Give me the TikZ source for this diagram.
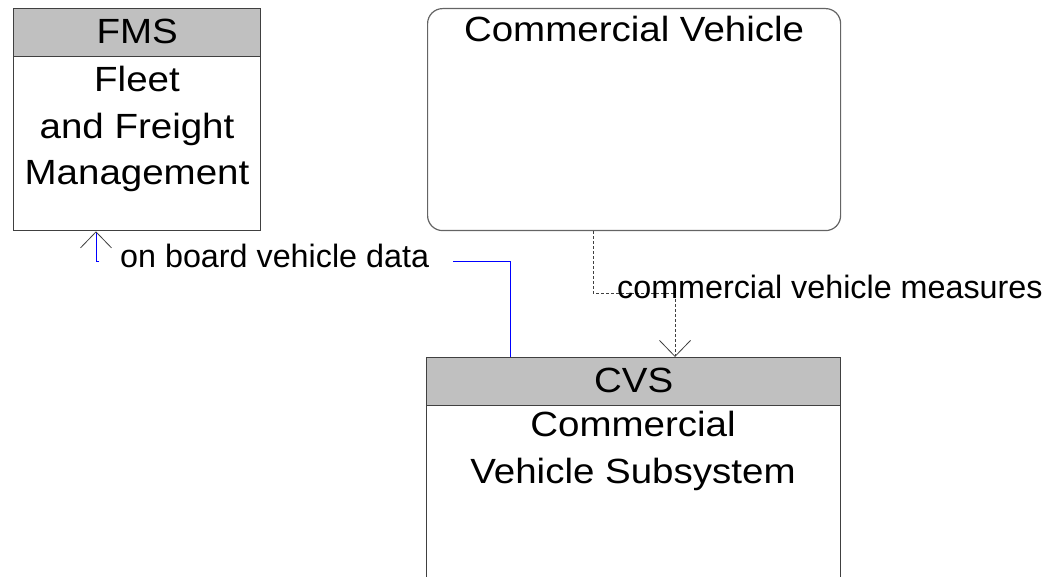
\documentclass[tikz,border=0pt]{standalone}
\usepackage{fontspec}
\setmainfont{Liberation Sans}
\newfontfamily\boxfont[FakeStretch=1.1]{Liberation Sans}
\usetikzlibrary{arrows.meta}
\definecolor{hdrgray}{RGB}{192,192,192}
\definecolor{edgegray}{RGB}{64,64,64}
\definecolor{cvgray}{RGB}{100,100,100}
\definecolor{flowblue}{RGB}{0,0,255}
\tikzset{
  boxframe/.style={draw=edgegray, line width=1.3pt, fill=white, inner sep=0pt, anchor=north west},
  hdrbox/.style={draw=edgegray, line width=1.3pt, fill=hdrgray, inner sep=0pt, anchor=north west,
     font=\boxfont\fontsize{35}{42}\selectfont, text height=25pt, text depth=4pt},
  bodytext/.style={inner sep=0pt, anchor=north, align=center, font=\boxfont\fontsize{35}{46.5}\selectfont},
  cvbox/.style={draw=cvgray, line width=1.2pt, rounded corners=15pt, inner sep=0pt, anchor=north west},
  flowlabel/.style={inner sep=0pt, anchor=base west, font=\fontsize{32.3}{38}\selectfont},
  openhead/.style={-{Straight Barb[length=16pt,width=31pt,color=edgegray,line width=0.8pt]}},
}
\begin{document}
\begin{tikzpicture}[x=1pt,y=-1pt]
\useasboundingbox (0,0) rectangle (1052,577);
\clip (0,0) rectangle (1052,577);
% FMS
\node[boxframe, minimum width=247pt, minimum height=222pt] (fms) at (13,8) {};
\node[hdrbox, minimum width=247pt, minimum height=48pt] (fmsh) at (13,8) {FMS};
\node[bodytext] (fmsb) at (137,66) {Fleet\\and Freight\\Management};
% Commercial Vehicle
\node[cvbox, minimum width=413pt, minimum height=222pt] (cv) at (427,8) {};
\node[bodytext] (cvt) at (cv.north |- 0,16) {Commercial Vehicle};
% CVS
\node[boxframe, minimum width=414pt, minimum height=260pt] (cvs) at (426,357) {};
\node[hdrbox, minimum width=414pt, minimum height=48pt] (cvsh) at (426,357) {CVS};
\node[bodytext] (cvsb) at (633,411) {Commercial\\Vehicle Subsystem};
% connector: on board vehicle data
\coordinate (b1) at (510,357);
\coordinate (b2) at (510,262);
\coordinate (b3) at (453,262);
\coordinate (b4) at (99,262);
\coordinate (b5) at (96,262);
\coordinate (b6) at (96,230);
\draw[flowblue, line width=1pt] (cvsh.north -| b1) -- (b2) -- (b3);
\draw[flowblue, line width=1pt, openhead] (b4) -- (b5) -- (fms.south -| b6);
\node[flowlabel] (lab1) at (120,268) {on board vehicle data};
% connector: commercial vehicle measures
\coordinate (d1) at (593,230);
\coordinate (d2) at (593,293);
\coordinate (d3) at (675,293);
\coordinate (d4) at (675,357);
\draw[edgegray, line width=0.8pt, dash pattern=on 3pt off 2pt, openhead] (cv.south -| d1) -- (d2) -- (d3) -- (cvsh.north -| d4);
\node[flowlabel] (lab2) at (617,299) {commercial vehicle measures};
\end{tikzpicture}
\end{document}
